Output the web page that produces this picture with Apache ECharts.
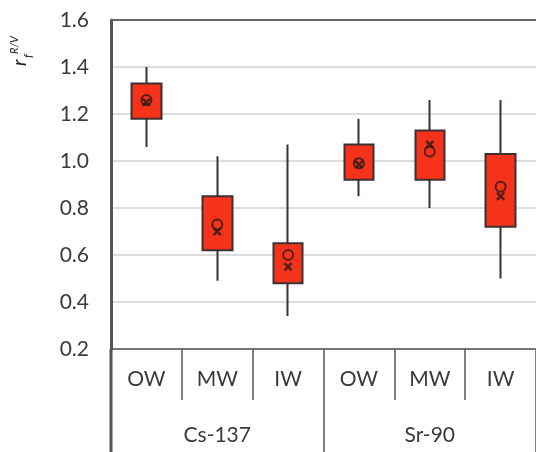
<!DOCTYPE html>
<html>
<head>
    <meta charset="utf-8" />
    <title>ECharts</title>
    <script src="https://cdn.jsdelivr.net/npm/echarts@6/dist/echarts.min.js"></script>
    <style type="text/css">
        body {
            margin: 0;
            padding: 0;
            background-color: #fff;
            overflow: hidden;
        }

        #main {
            width: 536px;
            height: 452px;
        }
    </style>
</head>
<body>
    <div id="main"></div>
    <script type="text/javascript">
        // 数据
        var subCategories = ['OW', 'MW', 'IW', 'OW', 'MW', 'IW'];
        var groupCategories = ['Cs-137', 'Sr-90'];
        var whiskerLow = [1.06, 0.49, 0.34, 0.85, 0.80, 0.50];
        var q1 = [1.18, 0.62, 0.48, 0.92, 0.92, 0.72];
        var q3 = [1.33, 0.85, 0.65, 1.07, 1.13, 1.03];
        var whiskerHigh = [1.40, 1.02, 1.07, 1.18, 1.26, 1.26];
        var circleValues = [1.26, 0.73, 0.60, 0.99, 1.04, 0.89];
        var crossValues = [1.25, 0.70, 0.55, 0.985, 1.07, 0.85];
        var yTicks = { min: 0.2, max: 1.6, step: 0.2 };

        var fontFamily = 'Lato, "Noto Sans", sans-serif';
        var textColor = '#3a3a3a';
        var gridBox = { left: 111, right: -3, top: 20, bottom: 103 };
        var chartW = 536, chartH = 452;

        // candlestick: [open, close, lowest, highest]
        var boxData = q1.map(function (v, i) {
            return [v, q3[i], whiskerLow[i], whiskerHigh[i]];
        });

        var myChart = echarts.init(document.getElementById('main'), null, { renderer: 'canvas', width: chartW, height: chartH });

        var option = {
            animation: false,
            grid: gridBox,
            xAxis: [
                {
                    type: 'category',
                    data: subCategories,
                    position: 'bottom',
                    axisLine: { show: true, lineStyle: { color: '#555', width: 1.5 } },
                    axisTick: { show: true, interval: 0, length: 51, lineStyle: { color: '#555', width: 1.5 } },
                    axisLabel: { interval: 0, margin: 20, color: textColor, fontSize: 21, fontFamily: fontFamily }
                },
                {
                    type: 'category',
                    data: groupCategories,
                    position: 'bottom',
                    axisLine: { show: false },
                    axisTick: { show: true, interval: 0, length: 103, lineStyle: { color: '#555', width: 1.5 } },
                    axisLabel: { interval: 0, margin: 76, color: textColor, fontSize: 21, fontFamily: fontFamily }
                }
            ],
            yAxis: {
                type: 'value',
                min: yTicks.min,
                max: yTicks.max,
                interval: yTicks.step,
                axisLine: { show: true, lineStyle: { color: '#555', width: 3 } },
                axisTick: { show: false },
                axisLabel: {
                    margin: 22,
                    color: textColor,
                    fontSize: 21,
                    fontFamily: fontFamily,
                    formatter: function (v) { return v.toFixed(1); }
                },
                splitLine: { show: true, lineStyle: { color: '#d2d2d2', width: 1.5 } }
            },
            graphic: [
                {
                    id: 'yTitle',
                    type: 'group',
                    x: 29,
                    y: 66,
                    rotation: Math.PI / 2,
                    children: [
                        { type: 'text', x: 0, y: 0, style: { text: 'r', font: 'italic 19px ' + fontFamily, fill: '#222', verticalAlign: 'bottom' } },
                        { type: 'text', x: 8, y: 5, style: { text: 'f', font: 'italic 12px ' + fontFamily, fill: '#222', verticalAlign: 'bottom' } },
                        { type: 'text', x: 12, y: -9, style: { text: 'R/V', font: 'italic 11px ' + fontFamily, fill: '#222', verticalAlign: 'bottom' } }
                    ]
                },
                {
                    // 顶部边框
                    id: 'topBorder',
                    type: 'rect',
                    z: 100,
                    shape: { x: gridBox.left, y: gridBox.top - 1, width: chartW - gridBox.left, height: 2 },
                    style: { fill: '#666' }
                },
                {
                    // 左边线向下延伸
                    id: 'leftBorder',
                    type: 'rect',
                    z: 100,
                    shape: { x: gridBox.left - 1.5, y: chartH - gridBox.bottom, width: 3, height: gridBox.bottom },
                    style: { fill: '#555' }
                }
            ],
            series: [
                {
                    name: 'box',
                    type: 'candlestick',
                    xAxisIndex: 0,
                    barWidth: 30,
                    data: boxData,
                    itemStyle: {
                        color: '#f5331a',
                        color0: '#f5331a',
                        borderColor: '#3d3030',
                        borderColor0: '#3d3030',
                        borderWidth: 2
                    }
                },
                {
                    name: 'circle',
                    type: 'scatter',
                    xAxisIndex: 0,
                    symbol: 'circle',
                    symbolSize: 10,
                    data: circleValues,
                    itemStyle: { color: 'transparent', borderColor: '#2a1a1a', borderWidth: 2 },
                    z: 5
                },
                {
                    name: 'cross',
                    type: 'scatter',
                    xAxisIndex: 0,
                    symbol: 'path://M2,0L5,3L8,0L10,2L7,5L10,8L8,10L5,7L2,10L0,8L3,5L0,2Z',
                    symbolSize: 9,
                    data: crossValues,
                    itemStyle: { color: '#2a1a1a' },
                    z: 6
                }
            ]
        };

        myChart.setOption(option);
    </script>
</body>
</html>
